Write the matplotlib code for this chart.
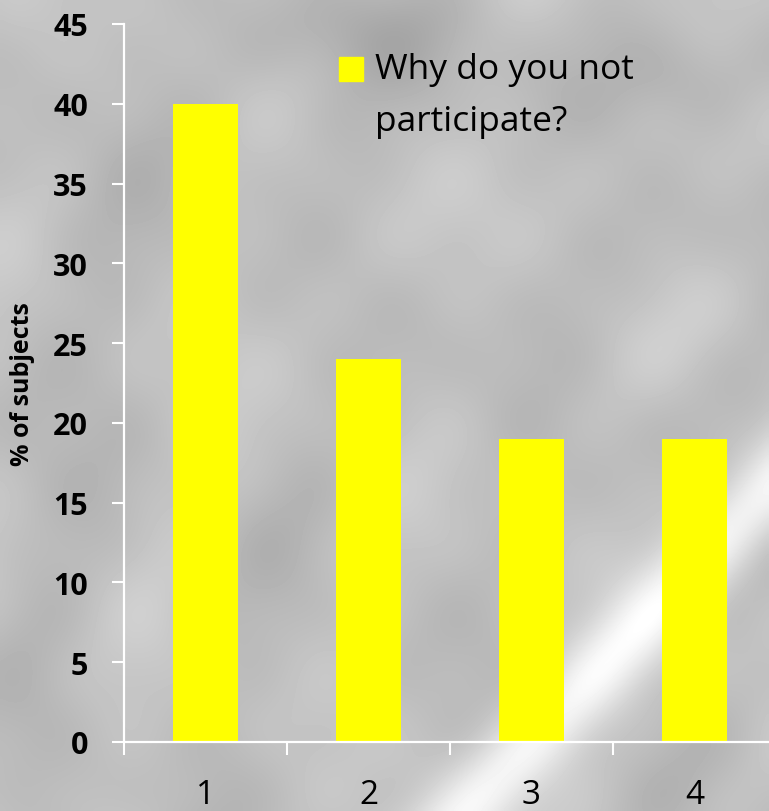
import numpy as np
import matplotlib
matplotlib.use("Agg")
import matplotlib.pyplot as plt
from matplotlib.patches import Rectangle

plt.rcParams['font.family'] = ['Open Sans', 'DejaVu Sans']

# ── DATA ───────────────────────────────────────────────────────────────────
categories = ['1', '2', '3', '4']
values = [40, 24, 19, 19]
series_label = 'Why do you not\nparticipate?'
y_ticks = [0, 5, 10, 15, 20, 25, 30, 35, 40, 45]

W, H = 769, 812
fig = plt.figure(figsize=(W / 100, H / 100), dpi=100)

# ── BACKDROP: mottled grey texture with a light diagonal streak ────────────
bg = fig.add_axes([0, 0, 1, 1])
bg.axis('off')
yy, xx = np.mgrid[0:1:240j, 0:1:230j]
tex = (0.75
       + 0.018 * np.sin(21 * xx + 5 * yy)
       + 0.016 * np.cos(17 * yy - 9 * xx + 1)
       + 0.014 * np.sin(31 * xx * yy + 3)
       + 0.012 * np.cos(27 * xx + 19 * yy)
       + 0.010 * np.sin(41 * yy + 2) * np.cos(37 * xx))
tex -= 0.06 * np.exp(-((xx - 0.45) ** 2 / 0.02 + (yy - 0.04) ** 2 / 0.004))
tex -= 0.05 * np.exp(-((xx - 0.9) ** 2 / 0.01 + (yy - 0.1) ** 2 / 0.004))
tex += 0.22 * np.exp(-((xx + yy - 1.61) / 0.07) ** 2)
tex = np.clip(tex, 0, 1)
bg.imshow(tex, cmap='gray', vmin=0, vmax=1, extent=[0, 1, 0, 1],
          aspect='auto', interpolation='bicubic', origin='upper')
bg.set_xlim(0, 1)
bg.set_ylim(0, 1)

# ── BARS ───────────────────────────────────────────────────────────────────
ax = fig.add_axes([124 / W, 69 / H, 652 / W, 718 / H])
ax.patch.set_alpha(0)
x = np.arange(1, len(values) + 1)
ax.bar(x, values, width=0.4, color='#ffff00', label=series_label)

ax.set_xlim(0.5, len(values) + 0.5)
ax.set_ylim(0, 45)

for side in ('top', 'right'):
    ax.spines[side].set_visible(False)
for side in ('left', 'bottom'):
    ax.spines[side].set_color('white')
    ax.spines[side].set_linewidth(1.6)

ax.set_yticks(y_ticks)
ax.set_yticklabels([str(t) for t in y_ticks], fontsize=22, fontweight='bold')
ax.tick_params(axis='y', colors='white', labelcolor='black',
               length=9, width=1.5, pad=17)

ax.set_xticks(x)
ax.set_xticklabels(categories, fontsize=24)
ax.set_xticks(np.arange(0.5, len(values) + 1, 1), minor=True)
ax.tick_params(axis='x', which='major', length=0, pad=26, labelcolor='black')
ax.tick_params(axis='x', which='minor', colors='white', length=9, width=1.5)

ax.set_ylabel('% of subjects', fontsize=18, fontweight='bold')
ax.yaxis.set_label_coords((23 - 124) / 652, 0.5)
ax.yaxis.label.set_verticalalignment('center')

# ── LEGEND ─────────────────────────────────────────────────────────────────
fig.add_artist(Rectangle((339 / W, 1 - 82 / H), 24 / W, 24 / H,
                         transform=fig.transFigure, color='#ffff00'))
fig.text(375 / W, 1 - 53 / H, series_label, va='top', ha='left',
         fontsize=25.5, linespacing=1.68)

fig.savefig('out.png', dpi=100)
